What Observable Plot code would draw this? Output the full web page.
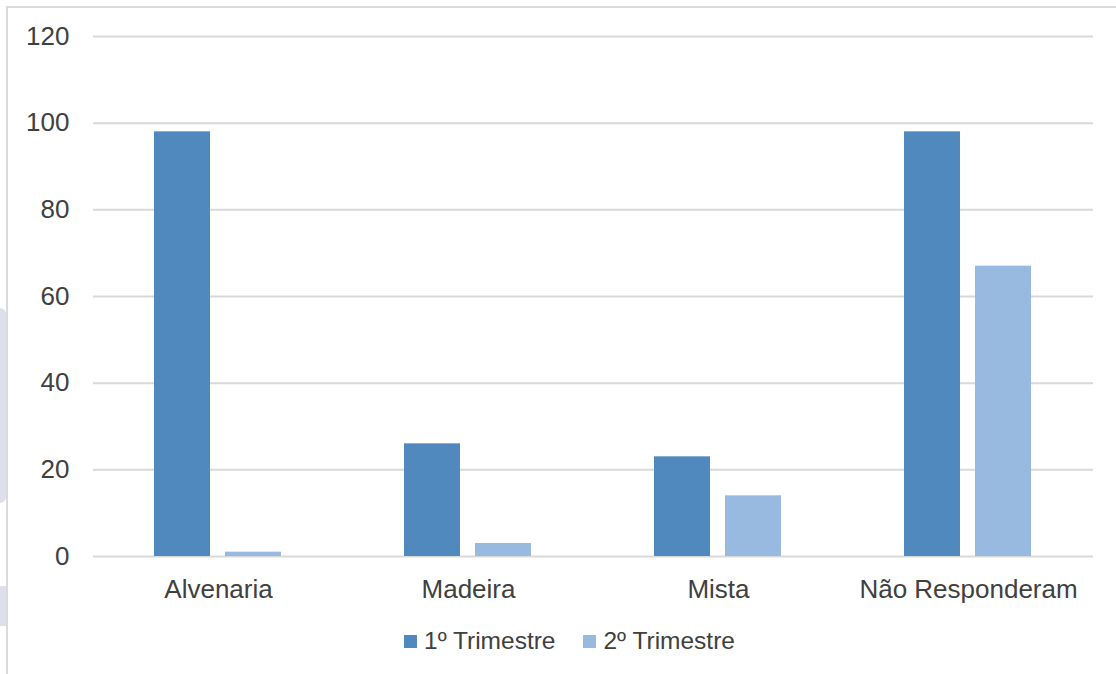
<!DOCTYPE html>
<html>
<head>
<meta charset="utf-8">
<script src="https://cdn.jsdelivr.net/npm/d3@7"></script>
<script src="https://cdn.jsdelivr.net/npm/@observablehq/plot@0.6"></script>
<style>
  html, body { margin: 0; padding: 0; background: #fff; }
  #wrap { position: relative; width: 1116px; height: 674px; overflow: hidden; font-family: "Liberation Sans", Arial, sans-serif; color: #404040; }
  #frame { position: absolute; left: 6px; top: 6px; width: 1200px; height: 800px; border-left: 2px solid #dadada; border-top: 2px solid #dadada; }
  .wm { position: absolute; left: 0; width: 6px; background: #dde0ea; }
  #chart { position: absolute; left: 0; top: 0; }
  #legend { position: absolute; top: 627px; left: 404px; display: flex; align-items: center; font-size: 24.5px; white-space: nowrap; }
  .item { display: flex; align-items: center; margin-right: 28px; }
  .sw { width: 13px; height: 13px; margin-right: 7px; }
</style>
</head>
<body>
<div id="wrap">
  <div class="wm" style="top:308px;height:195px;border-radius:0 40px 40px 0;"></div>
  <div class="wm" style="top:586px;height:40px;"></div>
  <div id="frame"></div>
  <div id="chart"></div>
  <div id="legend"></div>
</div>
<script>
const categories = ["Alvenaria", "Madeira", "Mista", "Não Responderam"];
const series = ["1º Trimestre", "2º Trimestre"];
const trimestre1 = [98, 26, 23, 98];
const trimestre2 = [1, 3, 14, 67];
const yTicks = [0, 20, 40, 60, 80, 100, 120];
const colors = ["#4f89bd", "#98b9e0"];

const data = categories.flatMap((c, i) => [
  {cat: c, s: series[0], v: trimestre1[i]},
  {cat: c, s: series[1], v: trimestre2[i]}
]);

const chart = Plot.plot({
  width: 1116,
  height: 620,
  marginLeft: 93,
  marginRight: 23,
  marginTop: 36,
  marginBottom: 64,
  style: {fontFamily: "'Liberation Sans', Arial, sans-serif", fontSize: "26px", color: "#404040", background: "transparent"},
  fx: {domain: categories, padding: 0, label: null, axis: "bottom", tickSize: 0, tickPadding: 23},
  x: {domain: series, paddingInner: 0.211, paddingOuter: 0.866, axis: null},
  y: {domain: [0, 120], ticks: yTicks, label: null, tickSize: 0, tickPadding: 24},
  color: {domain: series, range: colors},
  marks: [
    Plot.ruleY(yTicks, {stroke: "#d9d9d9", strokeWidth: 2}),
    Plot.barY(data, {fx: "cat", x: "s", y: "v", fill: "s"})
  ]
});
document.getElementById("chart").appendChild(chart);

const legend = document.getElementById("legend");
series.forEach((s, i) => {
  const item = document.createElement("div");
  item.className = "item";
  const sw = document.createElement("div");
  sw.className = "sw";
  sw.style.background = colors[i];
  const t = document.createElement("span");
  t.textContent = s;
  item.appendChild(sw);
  item.appendChild(t);
  legend.appendChild(item);
});
</script>
</body>
</html>
